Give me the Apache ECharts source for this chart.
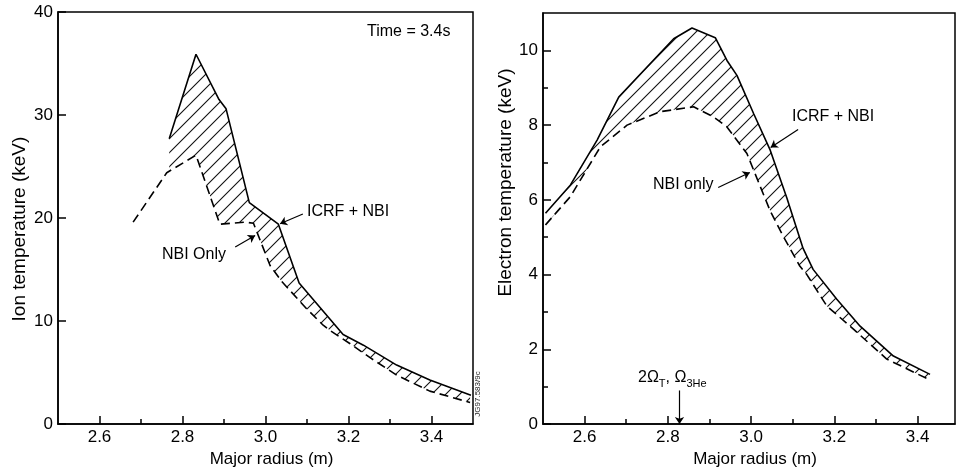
<!DOCTYPE html>
<html><head><meta charset="utf-8">
<script src="https://cdn.jsdelivr.net/npm/echarts@6/dist/echarts.min.js"></script>
<style>html,body{margin:0;padding:0;background:#fff}#c{width:963px;height:473px}</style>
</head><body><div id="c"></div>
<script>
// ---------- data ----------
// Left panel: ion temperature (keV) vs major radius (m)
const ionRadiusIcrf = [2.768, 2.8325, 2.888, 2.905, 2.961, 3.031, 3.081, 3.187, 3.236, 3.316, 3.396, 3.495];
const ionTempIcrf   = [27.7, 35.9, 31.5, 30.6, 21.5, 19.4, 13.7, 8.7, 7.66, 5.73, 4.28, 2.8];
const ionRadiusNbi  = [2.681, 2.762, 2.8325, 2.890, 2.951, 2.971, 3.011, 3.039, 3.099, 3.139, 3.155, 3.204, 3.252, 3.316, 3.396, 3.493];
const ionTempNbi    = [19.6, 24.4, 26.1, 19.4, 19.6, 19.5, 15.4, 13.85, 11.2, 9.6, 9.1, 7.8, 6.45, 4.75, 3.2, 2.1];
// Right panel: electron temperature (keV) vs major radius (m)
const eRadiusIcrf = [2.506, 2.566, 2.63, 2.682, 2.814, 2.858, 2.914, 2.942, 2.966, 3.006, 3.046, 3.086, 3.125, 3.149, 3.206, 3.262, 3.342, 3.43];
const eTempIcrf   = [5.64, 6.4, 7.6, 8.75, 10.31, 10.6, 10.34, 9.73, 9.33, 8.31, 7.33, 6.05, 4.7, 4.14, 3.34, 2.62, 1.82, 1.33];
const eRadiusNbi  = [2.506, 2.566, 2.638, 2.702, 2.782, 2.862, 2.910, 2.942, 2.990, 3.022, 3.046, 3.077, 3.117, 3.134, 3.182, 3.246, 3.326, 3.426];
const eTempNbi    = [5.33, 6.09, 7.42, 8.0, 8.36, 8.49, 8.22, 7.95, 7.24, 6.36, 5.7, 5.03, 4.23, 4.0, 3.16, 2.54, 1.74, 1.2];
// Tick labels
const radiusTicks      = [2.6, 2.8, 3.0, 3.2, 3.4];
const radiusMinorTicks = [2.7, 2.9, 3.1, 3.3];
const ionTempTicks     = [0, 10, 20, 30, 40];
const eTempTicks       = [0, 2, 4, 6, 8, 10];
const eTempMinorTicks  = [1, 3, 5, 7, 9];
// Annotation arrows (data coordinates: [from, to])
const ionIcrfArrow = [[3.090, 20.4], [3.035, 19.45]];
const ionNbiArrow  = [[2.927, 17.2], [2.975, 18.3]];
const eIcrfArrow   = [[3.113, 7.88], [3.047, 7.40]];
const eNbiArrow    = [[2.921, 6.33], [2.997, 6.73]];
const resArrow     = [[2.828, 0.9], [2.828, 0.0]];

// ---------- helpers ----------
const FONT = '"Liberation Sans", Arial, Helvetica, sans-serif';
function pairs(xs, ys) { return xs.map((x, i) => [x, ys[i]]); }
function interpAt(pts, x) {
  for (let i = 0; i < pts.length - 1; i++) {
    const a = pts[i], b = pts[i + 1];
    if (x >= a[0] && x <= b[0]) return a[1] + (b[1] - a[1]) * (x - a[0]) / (b[0] - a[0]);
  }
  return x < pts[0][0] ? pts[0][1] : pts[pts.length - 1][1];
}
function clip(pts, lo, hi) {
  const out = [[lo, interpAt(pts, lo)]];
  pts.forEach(p => { if (p[0] > lo && p[0] < hi) out.push(p); });
  out.push([hi, interpAt(pts, hi)]);
  return out;
}
function band(upper, lower) {
  const lo = Math.max(upper[0][0], lower[0][0]);
  const hi = Math.min(upper[upper.length - 1][0], lower[lower.length - 1][0]);
  return clip(upper, lo, hi).concat(clip(lower, lo, hi).reverse());
}
function hatchCanvas(p) {
  const c = document.createElement('canvas');
  c.width = p; c.height = p;
  const g = c.getContext('2d');
  g.strokeStyle = '#111'; g.lineWidth = 1.1;
  g.beginPath();
  g.moveTo(0, p); g.lineTo(p, 0);
  g.moveTo(-2, 2); g.lineTo(2, -2);
  g.moveTo(p - 2, p + 2); g.lineTo(p + 2, p - 2);
  g.stroke();
  return c;
}
const HATCH = hatchCanvas(14);

const ionIcrf = pairs(ionRadiusIcrf, ionTempIcrf);
const ionNbi  = pairs(ionRadiusNbi, ionTempNbi);
const eIcrf   = pairs(eRadiusIcrf, eTempIcrf);
const eNbi    = pairs(eRadiusNbi, eTempNbi);

function bandSeries(idx, poly) {
  return {
    type: 'custom', xAxisIndex: idx * 2, yAxisIndex: idx * 2, z: 1, silent: true,
    data: [[poly[0][0], poly[0][1]]],
    renderItem: function (params, api) {
      return { type: 'polygon', shape: { points: poly.map(p => api.coord(p)) },
               style: { fill: { image: HATCH, repeat: 'repeat' }, stroke: null } };
    }
  };
}
function arrowLine(list) {
  return {
    silent: true, symbol: ['none', 'arrow'], symbolSize: 7, animation: false,
    label: { show: false },
    lineStyle: { color: '#000', width: 1.2, type: 'solid' },
    data: list.map(a => [{ coord: a[0] }, { coord: a[1] }])
  };
}
const lineBlack = { color: '#000', width: 1.5 };
function xAxes(gi, max) {
  return [{
    gridIndex: gi, type: 'value', min: 2.5, max: max, interval: 0.1, position: 'bottom',
    axisLine: { onZero: false, lineStyle: lineBlack },
    axisTick: { inside: true, length: 8, customValues: radiusTicks, lineStyle: lineBlack },
    axisLabel: { customValues: radiusTicks, color: '#000', fontSize: 17, fontFamily: FONT, margin: 5,
                 formatter: v => v.toFixed(1) },
    splitLine: { show: false },
    name: 'Major radius (m)', nameLocation: 'middle', nameGap: 24,
    nameTextStyle: { color: '#000', fontSize: 17, fontFamily: FONT, padding: [0, 0, 0, 12] }
  }, {
    gridIndex: gi, type: 'value', min: 2.5, max: max, interval: 0.1, position: 'bottom',
    axisLine: { show: false, onZero: false },
    axisTick: { inside: true, length: 5, customValues: radiusMinorTicks, lineStyle: lineBlack },
    axisLabel: { show: false }, splitLine: { show: false }
  }];
}

const chart = echarts.init(document.getElementById('c'), null, { renderer: 'canvas' });
chart.setOption({
  animation: false,
  backgroundColor: '#fff',
  grid: [
    { left: 58, top: 12, width: 415, height: 414, show: true, borderColor: '#000', borderWidth: 1.5 },
    { left: 543, top: 13, width: 412, height: 412, show: true, borderColor: '#000', borderWidth: 1.5 }
  ],
  xAxis: xAxes(0, 3.5).concat(xAxes(1, 3.49)),
  yAxis: [
    {
      gridIndex: 0, type: 'value', min: 0, max: 40, interval: 10, position: 'left',
      axisLine: { onZero: false, lineStyle: lineBlack },
      axisTick: { inside: true, length: 8, customValues: ionTempTicks, lineStyle: lineBlack },
      axisLabel: { customValues: ionTempTicks, color: '#000', fontSize: 17, fontFamily: FONT, margin: 5 },
      splitLine: { show: false },
      name: 'Ion temperature (keV)', nameLocation: 'middle', nameGap: 29,
      nameTextStyle: { color: '#000', fontSize: 19, fontFamily: FONT, padding: [0, 22, 0, 0] }
    },
    {
      gridIndex: 0, type: 'value', min: 0, max: 40, interval: 10, position: 'left',
      axisLine: { show: false, onZero: false }, axisTick: { show: false },
      axisLabel: { show: false }, splitLine: { show: false }
    },
    {
      gridIndex: 1, type: 'value', min: 0, max: 11, interval: 1, position: 'left',
      axisLine: { onZero: false, lineStyle: lineBlack },
      axisTick: { inside: true, length: 8, customValues: eTempTicks, lineStyle: lineBlack },
      axisLabel: { customValues: eTempTicks, color: '#000', fontSize: 17, fontFamily: FONT, margin: 5 },
      splitLine: { show: false },
      name: 'Electron temperature (keV)', nameLocation: 'middle', nameGap: 26,
      nameTextStyle: { color: '#000', fontSize: 19, fontFamily: FONT, padding: [0, 0, 0, 72] }
    },
    {
      gridIndex: 1, type: 'value', min: 0, max: 11, interval: 1, position: 'left',
      axisLine: { show: false, onZero: false },
      axisTick: { inside: true, length: 5, customValues: eTempMinorTicks, lineStyle: lineBlack },
      axisLabel: { show: false }, splitLine: { show: false }
    }
  ],
  series: [
    bandSeries(0, band(ionIcrf, ionNbi)),
    { name: 'ICRF + NBI', type: 'line', xAxisIndex: 0, yAxisIndex: 0, data: ionIcrf, symbol: 'none', z: 3,
      lineStyle: { color: '#000', width: 1.6 }, markLine: arrowLine([ionIcrfArrow, ionNbiArrow]) },
    { name: 'NBI Only', type: 'line', xAxisIndex: 0, yAxisIndex: 0, data: ionNbi, symbol: 'none', z: 3,
      lineStyle: { color: '#000', width: 1.6, type: [9, 5] } },
    bandSeries(1, band(eIcrf, eNbi)),
    { name: 'ICRF + NBI', type: 'line', xAxisIndex: 2, yAxisIndex: 2, data: eIcrf, symbol: 'none', z: 3,
      lineStyle: { color: '#000', width: 1.6 }, markLine: arrowLine([eIcrfArrow, eNbiArrow, resArrow]) },
    { name: 'NBI only', type: 'line', xAxisIndex: 2, yAxisIndex: 2, data: eNbi, symbol: 'none', z: 3,
      lineStyle: { color: '#000', width: 1.6, type: [9, 5] } }
  ],
  graphic: [
    { type: 'text', x: 367, y: 32, style: { text: 'Time = 3.4s', fontSize: 16, fontFamily: FONT, fill: '#000', verticalAlign: 'middle' } },
    { type: 'text', x: 307, y: 212, style: { text: 'ICRF + NBI', fontSize: 16, fontFamily: FONT, fill: '#000', verticalAlign: 'middle' } },
    { type: 'text', x: 162, y: 255, style: { text: 'NBI Only', fontSize: 16, fontFamily: FONT, fill: '#000', verticalAlign: 'middle' } },
    { type: 'text', x: 792, y: 117, style: { text: 'ICRF + NBI', fontSize: 16, fontFamily: FONT, fill: '#000', verticalAlign: 'middle' } },
    { type: 'text', x: 653, y: 185, style: { text: 'NBI only', fontSize: 16, fontFamily: FONT, fill: '#000', verticalAlign: 'middle' } },
    { type: 'text', x: 638, y: 378, style: {
        text: '{n|2Ω}{s|T}{n|, Ω}{s|3He}', fontFamily: FONT, fill: '#000', verticalAlign: 'middle',
        rich: { n: { fontSize: 16, fontFamily: FONT, lineHeight: 22 },
                s: { fontSize: 11, fontFamily: FONT, lineHeight: 22, verticalAlign: 'bottom' } } } },
    { type: 'text', x: 478, y: 394, rotation: Math.PI / 2,
      style: { text: 'JG97.583/9c', fontSize: 8, fontFamily: FONT, fill: '#222', align: 'center', verticalAlign: 'middle' } }
  ]
});
</script></body></html>
